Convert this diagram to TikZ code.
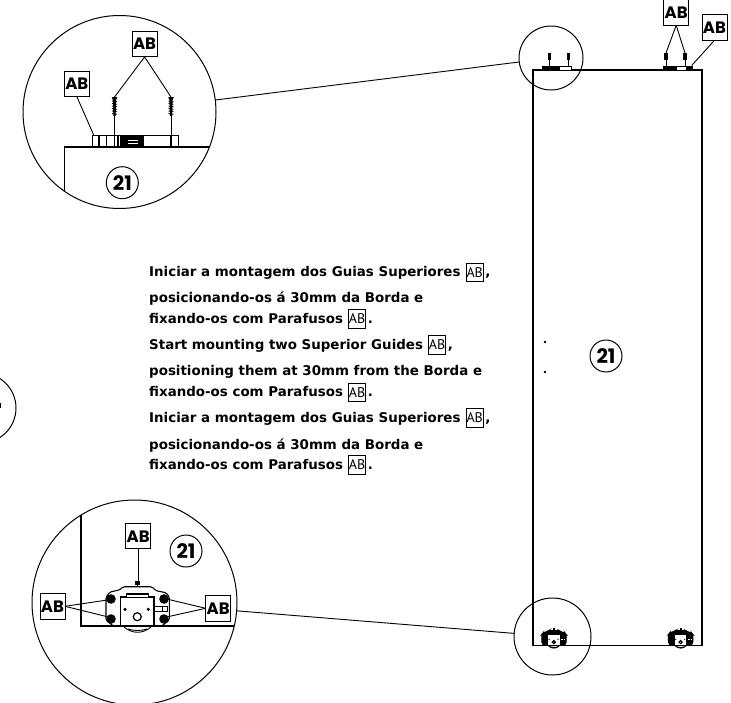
\documentclass[tikz,border=0pt]{standalone}
\usepackage{fontspec}
\setmainfont{DejaVu Sans}
\newfontfamily\gothic{Poppins}
\newfontfamily\inlinefont{PT Sans}
\newcommand{\iab}{\kern 5pt\raisebox{-4.6pt}{\setlength\fboxsep{0pt}\setlength\fboxrule{.9pt}\fbox{\vbox to 17.5pt{\vss\hbox to 16.5pt{\hss\normalfont\inlinefont\fontsize{14}{14}\selectfont AB\hss}\vss}}}\kern 1.5pt}
\newcommand{\screwshape}[3]{% x, top y, shaft end y
  \draw[line width=1pt] (#1,#2+17) -- (#1,#3);
  \fill (#1-2.8,#2) -- (#1+2.8,#2) -- (#1+1.6,#2+3) -- (#1+1.1,#2+19) -- (#1-1.1,#2+19) -- (#1-1.6,#2+3) -- cycle;
  \foreach \k in {4,6.5,...,17}{\draw[line width=.8pt] (#1-2.5,#2+\k) -- (#1+2.5,#2+\k+.8);}
}
% #1 body fill
\newcommand{\carriage}[1]{%
  \draw[line width=1.1pt,fill=#1,rounded corners=1.5] (113.3,626) -- (106,620) -- (106,597) -- (110,592) -- (119.3,590) -- (123.3,586.7) -- (151.7,586.7) -- (156,590.7) -- (166,592.7) -- (169.3,597) -- (169.3,620) -- (161.7,626);
  \fill (134.8,581) rectangle (140.2,585);
  \draw[line width=.9pt] (137.5,585) -- (137.5,587);
  \draw[line width=.9pt] (124,627) .. controls (132,634) and (143,634) .. (151,627);
  \draw[line width=.9pt] (128,629) .. controls (134,631) and (141,631) .. (147,629);
  \draw[line width=1.2pt,fill=white] (120.7,626) -- (120.7,597) -- (126.7,597) -- (126.7,594) -- (148.3,594) -- (148.3,597) -- (154,597) -- (154,626);
  \draw[line width=.8pt] (126.7,597) -- (148.3,597);
  \draw[line width=.9pt,fill=white] (154,606.7) rectangle (167.3,611.7);
  \draw[line width=.9pt] (162,606.7) -- (162,611.7);
  \fill (125,609.3) circle (1.7);
  \fill (148.3,609.3) circle (1.7);
  \draw[line width=1.2pt] (137.3,616.7) circle (4);
  \foreach \p in {(111,599),(111,619),(164,599),(164,619)}{\fill \p circle (4.8);}
}
\tikzset{
  abbox/.style={draw,fill=white,line width=1pt,minimum width=25pt,minimum height=25.5pt,inner sep=0pt,outer sep=0pt,font=\gothic\bfseries\fontsize{16.5}{16.5}\selectfont},
  numcircle/.style={circle,draw,line width=1pt,minimum size=32pt,inner sep=0pt,outer sep=0pt,font=\gothic\bfseries\fontsize{20}{20}\selectfont},
  detail/.style={circle,draw,line width=1pt,inner sep=0pt,outer sep=0pt},
  leader/.style={line width=.9pt},
  edge line/.style={line width=1.5pt},
  textline/.style={anchor=base west,inner sep=0pt,font=\bfseries\fontsize{13.4}{13.4}\selectfont}
}
\begin{document}
\begin{tikzpicture}[x=1pt,y=-1pt]
\clip (0,0) rectangle (731,702);
\fill[white] (0,0) rectangle (731,702);

\fill (545,342) circle (1.3);
\fill (545,372) circle (1.3);
\node[numcircle] (n21) at (606,356) {21};

% small carriages
\begin{scope}[shift={(554-137.7*.385,645.7-626*.385)},x=.385pt,y=-.385pt]
\carriage{black}
\end{scope}
\begin{scope}[shift={(680.7-137.7*.385,645.7-626*.385)},x=.385pt,y=-.385pt]
\carriage{black}
\end{scope}
% panel
\draw[edge line] (533,70) rectangle (702,645.7);

% detail circles
\node[detail,minimum size=193pt] (topbig) at (119.5,112) {};
\node[detail,minimum size=64pt] (topsmall) at (551,58) {};
\node[detail,minimum size=205pt] (botbig) at (134.5,602.5) {};
\node[detail,minimum size=77pt] (botsmall) at (552.5,636.5) {};
\node[detail,minimum size=70pt] (leftcut) at (-19,408) {};
\draw[leader] (topbig) -- (topsmall);
\draw[leader] (botbig) -- (botsmall);
\fill (0,403) rectangle (1.2,408);

% top enlarged detail
\draw[edge line] (64.3,191) -- (64.3,147) -- (209.4,147);
\draw[line width=1.4pt] (92.5,135.7) rectangle (178.5,147);
\foreach \x in {99,106.7,114.3,118,171}{\draw[line width=1.3pt] (\x,135.7) -- (\x,147);}
\fill (120,135.7) rectangle (144.3,147);
\draw[white,line width=.5pt] (128,140) -- (138,140) (128,143) -- (138,143);
\screwshape{114.5}{97}{147}
\screwshape{171}{97}{147}
\coordinate (ts1) at (114.5,97);
\coordinate (ts2) at (171,97);
\coordinate (tg) at (94,135.7);
\node[abbox] (tb1) at (76.8,83.8) {AB};
\node[abbox] (tb2) at (144.6,44.2) {AB};
\draw[leader] (tb1.south) -- (tg);
\draw[leader] (tb2.south) -- (ts1);
\draw[leader] (tb2.south) -- (ts2);
\node[numcircle] (n21a) at (122.3,182.7) {21};

% small top guides
\draw[line width=1pt,fill=white] (542,66) rectangle (571.7,70.7);
\fill (542,66) rectangle (560,70.7);
\draw[line width=1pt,fill=white] (663.3,66) rectangle (692.7,70.7);
\fill (663.3,66) rectangle (676.7,70.7);
\fill (686,66) rectangle (692.7,70.7);
\foreach \x in {549.7,568.3,666,685}{
  \fill (\x-1.7,53) rectangle (\x+1.7,60);
  \draw[line width=1pt] (\x,60) -- (\x,66);
}
\coordinate (ss1) at (666,53);
\coordinate (ss2) at (685,53);
\coordinate (sg) at (691.7,65.5);
\node[abbox] (sb1) at (676.2,12.5) {AB};
\node[abbox] (sb2) at (714.5,27.5) {AB};
\draw[leader] (sb1.south) -- (ss1);
\draw[leader] (sb1.south) -- (ss2);
\draw[leader] (sb2.south) -- (sg);

% bottom enlarged detail
\carriage{white}
\draw[edge line] (81,515) -- (81,626) -- (234,626);
\coordinate (c1) at (107.3,600);
\coordinate (c2) at (107.3,616.7);
\coordinate (c3) at (168,599.3);
\coordinate (c4) at (168,616.7);
\coordinate (c5) at (138.2,581);
\node[abbox] (bb1) at (138.2,536.2) {AB};
\node[abbox] (bb2) at (52.5,606.3) {AB};
\node[abbox] (bb3) at (218.2,608.3) {AB};
\draw[leader] (bb1.south) -- (c5);
\draw[leader] (bb2.east) -- (c1);
\draw[leader] (bb2.east) -- (c2);
\draw[leader] (bb3.west) -- (c3);
\draw[leader] (bb3.west) -- (c4);
\node[numcircle] (n21b) at (186,551) {21};

% instructions
\node[textline] (l1) at (149,276.7) {Iniciar a montagem dos Guias Superiores\iab,};
\node[textline] (l2) at (149,302.7) {posicionando-os á 30mm da Borda e};
\node[textline] (l3) at (149,323) {fixando-os com Parafusos\iab.};
\node[textline] (l4) at (149,349) {Start mounting two Superior Guides\iab,};
\node[textline] (l5) at (149,375.7) {positioning them at 30mm from the Borda e};
\node[textline] (l6) at (149,396.7) {fixando-os com Parafusos\iab.};
\node[textline] (l7) at (149,422) {Iniciar a montagem dos Guias Superiores\iab,};
\node[textline] (l8) at (149,449) {posicionando-os á 30mm da Borda e};
\node[textline] (l9) at (149,469) {fixando-os com Parafusos\iab.};
\end{tikzpicture}
\end{document}
